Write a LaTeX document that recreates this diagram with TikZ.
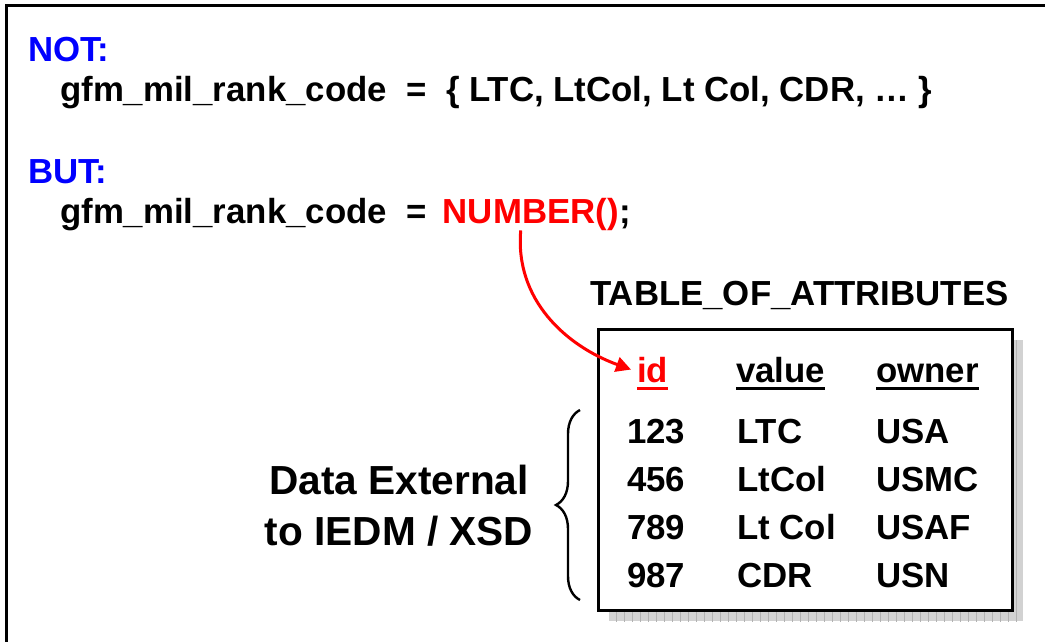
\documentclass[tikz,border=0pt]{standalone}
\usepackage{fontspec}
\setmainfont{Liberation Sans}
\usetikzlibrary{positioning,arrows.meta,decorations.pathreplacing}

\definecolor{ptblue}{RGB}{0,0,255}
\definecolor{ptred}{RGB}{255,0,0}

\begin{document}
\begin{tikzpicture}[x=1pt,y=-1pt,>={Triangle[length=15pt,width=15pt]},
  txt/.style={inner sep=0pt,anchor=base west,font=\bfseries\fontsize{34.8}{40}\selectfont},
  big txt/.style={inner sep=0pt,align=center,font=\bfseries\fontsize{40.6}{51}\selectfont},
  uline/.style={line width=3pt}]
  \useasboundingbox (0,0) rectangle (1045,641);

  % frame of the slide
  \draw[line width=3pt] (6,5) rectangle (1075,690);

  \node[txt,text=ptblue] (not) at (28,61) {NOT:};
  \node[txt] (enum) at (60,101) {gfm\_mil\_rank\_code\ \ =\ \ \{ LTC, LtCol, Lt Col, CDR, … \}};

  \node[txt,text=ptblue] (but) at (28,183) {BUT:};
  \node[txt] (lhs) at (60,223) {gfm\_mil\_rank\_code\ \ =\ \ };
  \node[txt,text=ptred] (numfn) [base right=6pt of lhs] {NUMBER()};
  \node[txt] (semi) [base right=0pt of numfn] {;};

  % the table
  \node[txt] (title) at (590,305) {TABLE\_OF\_ATTRIBUTES};
  \begin{scope}
    \clip (609,340) rectangle (1023,621);
    \fill[gray!35] (609,340) rectangle (1023,621);
    \draw[gray!60,line width=0.6pt,step=8] (600,330) grid (1030,630);
  \end{scope}
  \draw[line width=3pt,fill=white] (598,329) rectangle (1012,610);

  \node[txt,text=ptred] (id) at (637,382) {id};
  \node[txt] (value) at (736,382) {value};
  \node[txt] (owner) at (876,382) {owner};
  \draw[uline,ptred] ([yshift=-6pt]id.base west) -- ([yshift=-6pt]id.base east);
  \draw[uline] ([yshift=-6pt]value.base west) -- ([yshift=-6pt]value.base east);
  \draw[uline] ([yshift=-6pt]owner.base west) -- ([yshift=-6pt]owner.base east);

  \node[txt] (id1) at (627,443) {123};
  \node[txt] (val1) at (737,443) {LTC};
  \node[txt] (own1) at (876,443) {USA};
  \node[txt] (id2) at (627,491) {456};
  \node[txt] (val2) at (737,491) {LtCol};
  \node[txt] (own2) at (876,491) {USMC};
  \node[txt] (id3) at (627,539) {789};
  \node[txt] (val3) at (737,539) {Lt Col};
  \node[txt] (own3) at (876,539) {USAF};
  \node[txt] (id4) at (627,587) {987};
  \node[txt] (val4) at (737,587) {CDR};
  \node[txt] (own4) at (876,587) {USN};

  \node[big txt] (ext) at (399,506) {Data External\\to IEDM / XSD};
  \draw[decorate,decoration={brace,amplitude=24pt},line width=2.4pt] (580,600) -- (580,410);

  \draw[->,ptred,line width=3pt] ([xshift=-10pt]numfn.south) to[out=-95,in=160] ([xshift=-6pt]id.west);
\end{tikzpicture}
\end{document}
